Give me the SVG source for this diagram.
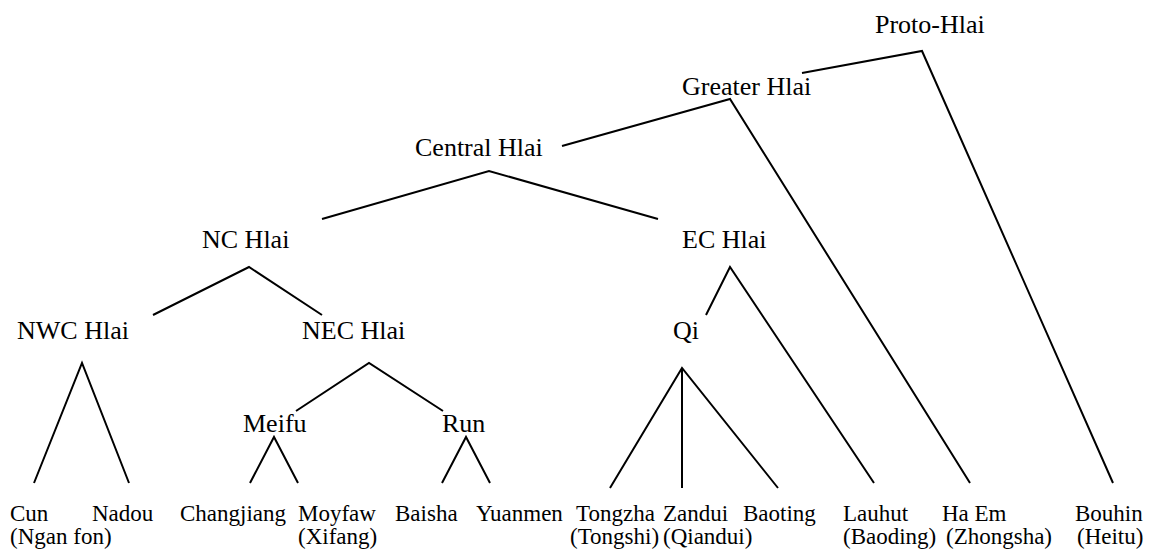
<svg xmlns="http://www.w3.org/2000/svg" width="1151" height="554" viewBox="0 0 1151 554">
<style>
.n{font-family:"Liberation Serif","Times New Roman",serif;font-size:26px;fill:#000}
.l{font-family:"Liberation Serif","Times New Roman",serif;font-size:23px;fill:#000}
.c{fill:none;stroke:#000;stroke-width:2;stroke-linejoin:miter}
</style>
<rect width="1151" height="554" fill="#fff"/>
<g id="connectors">
<polyline class="c" points="802,73 922,51 1113,483"/>
<polyline class="c" points="562,146 730,99 970,483"/>
<polyline class="c" points="322,219 489,171 658,219"/>
<polyline class="c" points="153,315 249,267 322,315"/>
<polyline class="c" points="706,315 730,267 874,483"/>
<polyline class="c" points="34,483 82,363 129,483"/>
<polyline class="c" points="296,411 369,363 443,411"/>
<polyline class="c" points="250,483 274,437 298,483"/>
<polyline class="c" points="442,483 466,437 490,483"/>
<polyline class="c" points="610,488 682,368 778,488"/>
<line class="c" x1="682" y1="368" x2="682" y2="488"/>
</g>
<g id="proto-hlai"><text class="n" x="875" y="33">Proto-Hlai</text></g>
<g id="greater-hlai"><text class="n" x="682" y="95">Greater Hlai</text></g>
<g id="central-hlai"><text class="n" x="415" y="156">Central Hlai</text></g>
<g id="nc-hlai"><text class="n" x="202" y="248">NC Hlai</text></g>
<g id="ec-hlai"><text class="n" x="682" y="248">EC Hlai</text></g>
<g id="nwc-hlai"><text class="n" x="17" y="339">NWC Hlai</text></g>
<g id="nec-hlai"><text class="n" x="302" y="339">NEC Hlai</text></g>
<g id="qi"><text class="n" x="673" y="339">Qi</text></g>
<g id="meifu"><text class="n" x="243" y="432">Meifu</text></g>
<g id="run"><text class="n" x="442" y="432">Run</text></g>
<g id="cun"><text class="l" x="10" y="521">Cun</text><text class="l" x="10" y="544">(Ngan fon)</text></g>
<g id="nadou"><text class="l" x="92" y="521">Nadou</text></g>
<g id="changjiang"><text class="l" x="180" y="521">Changjiang</text></g>
<g id="moyfaw"><text class="l" x="298" y="521">Moyfaw</text><text class="l" x="298" y="544">(Xifang)</text></g>
<g id="baisha"><text class="l" x="395" y="521">Baisha</text></g>
<g id="yuanmen"><text class="l" x="476" y="521">Yuanmen</text></g>
<g id="tongzha"><text class="l" x="576" y="521">Tongzha</text><text class="l" x="570" y="544">(Tongshi)</text></g>
<g id="zandui"><text class="l" x="663" y="521">Zandui</text><text class="l" x="663" y="544">(Qiandui)</text></g>
<g id="baoting"><text class="l" x="743" y="521">Baoting</text></g>
<g id="lauhut"><text class="l" x="843" y="521">Lauhut</text><text class="l" x="843" y="544">(Baoding)</text></g>
<g id="ha-em"><text class="l" x="942" y="521">Ha Em</text><text class="l" x="946" y="544">(Zhongsha)</text></g>
<g id="bouhin"><text class="l" x="1075" y="521">Bouhin</text><text class="l" x="1077" y="544">(Heitu)</text></g>
</svg>
